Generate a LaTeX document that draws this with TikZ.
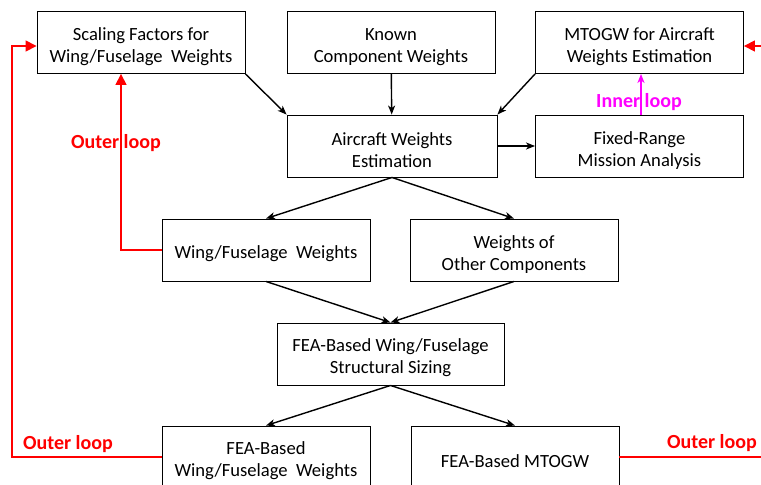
\documentclass[tikz,border=0pt]{standalone}
\usepackage{fontspec}
\setmainfont{Carlito}
\usetikzlibrary{arrows.meta, positioning, calc}

\definecolor{loopred}{RGB}{255,0,0}
\definecolor{innermag}{RGB}{255,0,255}

\newcommand{\tstrut}{\rule{0pt}{21pt}}

\tikzset{
  blk/.style={draw, line width=0.9pt, minimum width=208, minimum height=62, inner sep=2pt,
    align=center, font=\fontsize{18.6}{22}\selectfont},
  flow/.style={-{Stealth[length=9pt,width=7pt,inset=2.5pt]}, line width=1.4pt},
  redloop/.style={-{Triangle[length=11pt,width=11pt]}, line width=1.6pt, draw=loopred},
  looplbl/.style={font=\fontsize{20}{22}\selectfont\bfseries, inner sep=0pt}
}

\begin{document}
\begin{tikzpicture}[x=1pt, y=-1pt]

\useasboundingbox (0,0) rectangle (761,485);
\clip (0,0) rectangle (761,485);

% top row
\node[blk] (scal) at (141,42.5) {\tstrut Scaling Factors for\\Wing/Fuselage~ Weights};
\node[blk] (known) at (391,42.5) {\tstrut Known\\Component Weights};
\node[blk] (mtogw) at (639.5,42.5) {\tstrut MTOGW for Aircraft\\Weights Estimation};

% estimation
\node[blk, minimum width=210] (acwe) at (392,146) {\tstrut Aircraft Weights\\Estimation};
\node[blk] (fixr) at (639.5,146) {\tstrut Fixed-Range\\Mission Analysis};

% weights
\node[blk] (wfw) at (266,250) {\tstrut Wing/Fuselage~ Weights};
\node[blk] (owc) at (514,250) {\tstrut Weights of\\Other Components};

% sizing
\node[blk, minimum width=227] (fea) at (390.5,354) {\tstrut FEA-Based Wing/Fuselage\\Structural Sizing};
\node[blk] (feawf) at (266,457) {\tstrut FEA-Based\\Wing/Fuselage~ Weights};
\node[blk] (feamt) at (515,457) {\tstrut FEA-Based MTOGW};

% arrows
\draw[flow] (scal.south east) -- (acwe.north west);
\draw[flow] (known) -- (acwe);
\draw[flow] (mtogw.south west) -- (acwe.north east);
\draw[flow] (acwe) -- (fixr);
\draw[flow] (acwe.south) -- (wfw.north);
\draw[flow] (acwe.south) -- (owc.north);
\draw[flow] (wfw.south) -- (fea.north);
\draw[flow] (owc.south) -- (fea.north);
\draw[flow] (fea.south) -- (feawf.north);
\draw[flow] (fea.south) -- (feamt.north);

% inner loop
\draw[-{Stealth[length=9pt,width=7pt,inset=2.5pt]}, line width=1.4pt, draw=innermag]
  ([xshift=1.5pt]fixr.north) -- ([xshift=1.5pt]mtogw.south);
\node[looplbl, text=innermag] (inlbl) at (639,102) {Inner loop};

% outer loops
\coordinate (lp2) at (12,200);
\coordinate (lp3) at (780,200);
\draw[redloop] (wfw.west) -| ([xshift=-20pt]scal.south);
\draw[redloop] (feawf.west) -| (lp2) |- ([yshift=-3.5pt]scal.west);
\draw[redloop] (feamt.east) -| (lp3) |- ([yshift=-3.5pt]mtogw.east);
\node[looplbl, text=loopred] (out1) at (116,143) {Outer loop};
\node[looplbl, text=loopred] (out2) at (68,444) {Outer loop};
\node[looplbl, text=loopred] (out3) at (712,443) {Outer loop};

\end{tikzpicture}
\end{document}
